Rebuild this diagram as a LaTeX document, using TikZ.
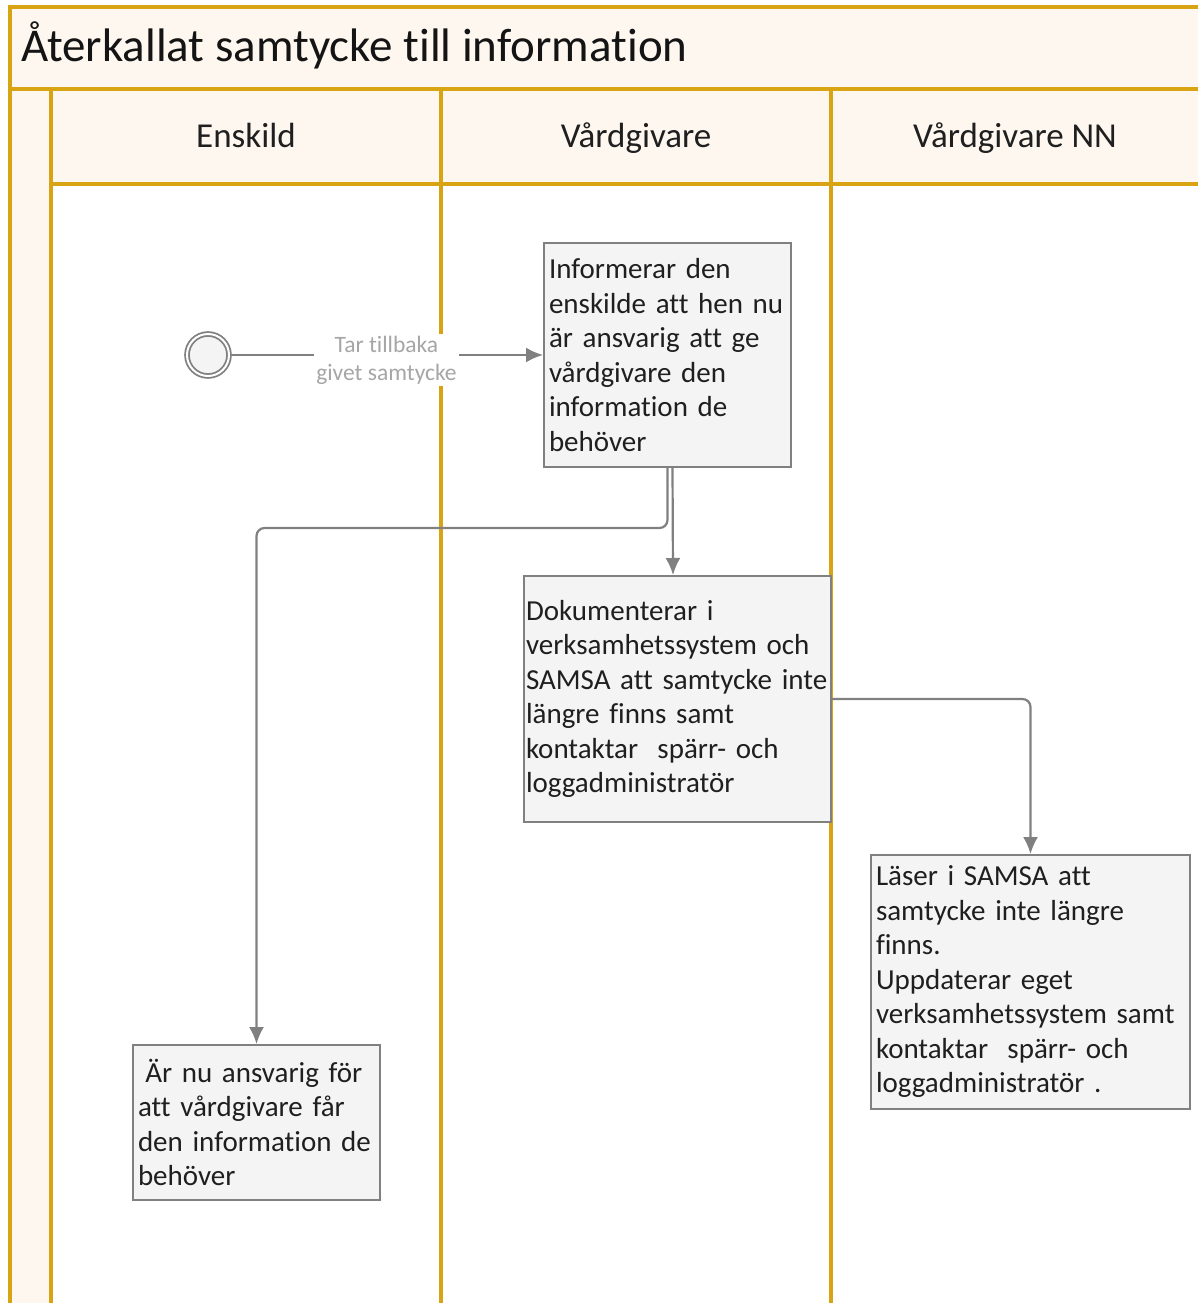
\documentclass[tikz,border=0pt]{standalone}
\usepackage{fontspec}
\setmainfont{Carlito}[Ligatures=NoCommon]
\usetikzlibrary{shapes, arrows.meta}

\definecolor{lanegold}{RGB}{216,164,20}
\definecolor{lanefill}{RGB}{254,247,240}
\definecolor{taskfill}{RGB}{244,244,244}
\definecolor{taskline}{RGB}{128,128,128}
\definecolor{labelgray}{RGB}{166,166,166}

\begin{document}
\begin{tikzpicture}[x=1pt, y=-1pt]
      \tikzstyle{lane} = [
        draw=lanegold,
        line width=3.5pt,
        fill=lanefill
      ]

      \tikzstyle{header} = [
        inner sep=0pt,
        anchor=base,
        text=black!88,
        font=\fontsize{35}{40}\selectfont
      ]

      \tikzstyle{task} = [
        rectangle,
        draw=taskline,
        line width=2pt,
        fill=taskfill,
        inner sep=5pt,
        align=left,
        text=black!88,
        font=\fontsize{29}{34.5}\selectfont
      ]

      \tikzstyle{start} = [
        circle,
        draw=taskline,
        line width=1.8pt,
        double=white,
        double distance=2pt,
        fill=taskfill,
        minimum size=42pt
      ]

      \tikzstyle{flow} = [
        draw=taskline,
        line width=2.2pt,
        -{Latex[length=17pt, width=15pt]}
      ]

      \tikzstyle{flowlabel} = [
        fill=white,
        align=center,
        inner sep=2pt,
        text=labelgray,
        font=\fontsize{23.5}{28}\selectfont
      ]

      \useasboundingbox (0,0) rectangle (1197,1303);

      \draw[lane] (10,7) rectangle (1230,89);
      \draw[lane] (10,89) rectangle (51,1330);
      \draw[lane] (51,89) rectangle (441,184);
      \draw[lane] (441,89) rectangle (831,184);
      \draw[lane] (831,89) rectangle (1230,184);
      \draw[draw=lanegold, line width=3.5pt] (441,184) -- (441,1330);
      \draw[draw=lanegold, line width=3.5pt] (831,184) -- (831,1330);

      \node[header, anchor=base west, text=black!92, font=\fontsize{47}{52}\selectfont] (titel)
      at (21,62) {Återkallat samtycke till information};
      \node[header] (enskild) at (246,147) {Enskild};
      \node[header] (vardgivare) at (636,147) {Vårdgivare};
      \node[header] (vardgivarenn) at (1015,147) {Vårdgivare NN};

      \node[start] (start) at (208,355) {};
      \node[task, text width=237pt, minimum height=224pt] (inform)
      at (667.5,355) {Informerar den\\enskilde att hen nu\\är ansvarig att ge\\vårdgivare den\\information de\\behöver};
      \node[task, text width=303pt, inner xsep=2pt, minimum height=246pt] (dokument)
      at (677.5,699) {Dokumenterar i\\verksamhetssystem och\\SAMSA att samtycke inte\\längre finns samt\\kontaktar\ \ spärr- och\\loggadministratör};
      \node[task, text width=309pt, minimum height=254pt] (laser)
      at (1030.5,982) {Läser i SAMSA att\\samtycke inte längre\\finns.\\Uppdaterar eget\\verksamhetssystem samt\\kontaktar\ \ spärr- och\\loggadministratör .};
      \node[task, text width=237pt, minimum height=155pt] (ansvar)
      at (256.5,1122.5) {\hspace*{0.25em}Är nu ansvarig för\\att vårdgivare får\\den information de\\behöver};

      \draw[flow] (start) -- (inform) node[midway, flowlabel, yshift=-5pt]
      {Tar tillbaka\\givet samtycke};
      \draw[flow] ([xshift=5pt]inform.south) -- ([xshift=-4.5pt]dokument.north);
      \draw[flow, rounded corners=8pt] (inform.south) -- ++(0,60) -| (ansvar.north);
      \draw[flow, rounded corners=8pt] (dokument.east) -| (laser.north);
    \end{tikzpicture}
\end{document}
